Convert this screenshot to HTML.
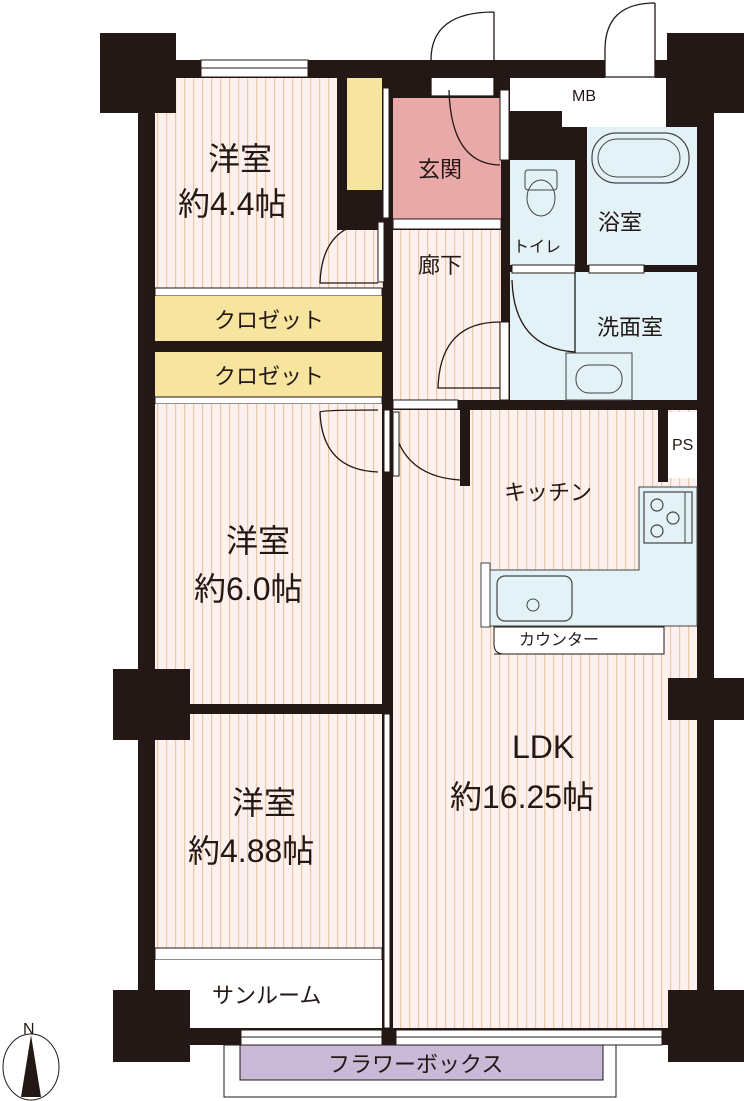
<!DOCTYPE html>
<html><head><meta charset="utf-8"><style>
html,body{margin:0;padding:0;background:#fff;}
svg{display:block}
text{font-family:"Liberation Sans","Noto Sans CJK JP",sans-serif;fill:#231815;}
</style></head><body>
<svg width="744" height="1101" viewBox="0 0 744 1101" xmlns="http://www.w3.org/2000/svg">
<defs>
<pattern id="fl" width="9" height="10" patternUnits="userSpaceOnUse">
<rect width="9" height="10" fill="#fcf1ee"/><rect x="4" width="1.2" height="10" fill="#ecc9a6"/>
</pattern>
</defs>
<rect x="138" y="60" width="576" height="985" fill="#231815"/>
<!-- rooms -->
<rect x="155" y="78" width="182" height="210" fill="url(#fl)"/>
<rect x="155" y="230" width="228" height="58" fill="url(#fl)"/>
<rect x="347" y="78" width="35" height="112" fill="#f7e59f"/>
<rect x="393" y="98" width="108" height="121" fill="#e9a9a8"/>
<rect x="393" y="219" width="108" height="10" fill="#fff" stroke="#231815" stroke-width="1"/>
<rect x="393" y="230" width="108" height="170" fill="url(#fl)"/>
<rect x="431" y="78" width="63" height="18" fill="#fff"/>
<rect x="510" y="78" width="156" height="33" fill="#fff"/>
<rect x="562" y="110" width="104" height="17" fill="#fff"/>
<rect x="605" y="60" width="50" height="18" fill="#fff"/>
<rect x="510" y="160" width="65" height="105" fill="#e3f2f6"/>
<rect x="587" y="127" width="110" height="138" fill="#e3f2f6"/>
<rect x="510" y="272" width="187" height="128" fill="#e3f2f6"/>
<rect x="512" y="265" width="63" height="8" fill="#fff" stroke="#231815" stroke-width="1"/>
<rect x="589" y="265" width="55" height="8" fill="#fff" stroke="#231815" stroke-width="1"/>
<rect x="155" y="288" width="227" height="8" fill="#fff" stroke="#231815" stroke-width="1"/>
<rect x="155" y="296" width="227" height="45" fill="#f7e59f"/>
<rect x="155" y="352" width="227" height="45" fill="#f7e59f"/>
<rect x="155" y="397" width="227" height="7" fill="#fff" stroke="#231815" stroke-width="1"/>
<rect x="393" y="400" width="65" height="9" fill="#fff" stroke="#231815" stroke-width="1"/>
<rect x="155" y="404" width="227" height="300" fill="url(#fl)"/>
<rect x="155" y="714" width="227" height="234" fill="url(#fl)"/>
<rect x="155" y="948" width="227" height="12" fill="#fff" stroke="#231815" stroke-width="1"/>
<rect x="155" y="960" width="227" height="68" fill="#fff"/>
<rect x="384" y="714" width="6" height="314" fill="#fff" stroke="#231815" stroke-width="1"/>
<rect x="393" y="410" width="304" height="618" fill="url(#fl)"/>
<rect x="460" y="404" width="10" height="82" fill="#231815"/>
<rect x="658" y="404" width="10" height="78" fill="#231815"/>
<rect x="668" y="412" width="29" height="66" fill="#fff"/>
<!-- counter -->
<path d="M639 487H697V626H490V570H639Z" fill="#e3f2f6" stroke="#444" stroke-width="1"/>
<rect x="644" y="492" width="48" height="51" fill="none" stroke="#444" stroke-width="1.2"/>
<line x1="685" y1="492" x2="685" y2="543" stroke="#444"/>
<circle cx="657" cy="505" r="6" fill="none" stroke="#444" stroke-width="1.2"/>
<circle cx="673" cy="518" r="6" fill="none" stroke="#444" stroke-width="1.2"/>
<circle cx="657" cy="531" r="6" fill="none" stroke="#444" stroke-width="1.2"/>
<rect x="481" y="563" width="9" height="64" fill="#fff" stroke="#444"/>
<rect x="497" y="576" width="75" height="45" rx="8" fill="none" stroke="#444" stroke-width="1.2"/>
<circle cx="533" cy="605" r="6" fill="none" stroke="#444"/>
<path d="M494 654H664V627H494V644Q494 654 504 654" fill="#fff" stroke="#231815"/>
<!-- bath fixtures -->
<rect x="592" y="133" width="97" height="50" rx="24" fill="none" stroke="#444" stroke-width="1.2"/>
<rect x="598" y="139" width="82" height="38" rx="19" fill="none" stroke="#444"/>
<rect x="566" y="353" width="66" height="47" fill="none" stroke="#444"/>
<rect x="576" y="365" width="46" height="28" rx="13" fill="none" stroke="#444"/>
<ellipse cx="541" cy="198" rx="14" ry="18" fill="none" stroke="#444"/>
<rect x="525" y="170" width="32" height="20" rx="3" fill="none" stroke="#444"/>
<!-- doors arcs -->
<g fill="none" stroke="#231815" stroke-width="1.3">
<path d="M494 12V96H431V60Q431 12 494 12"/>
<path d="M655 3V77H605V50Q605 3 655 3"/>
<path d="M449 90Q451 164 500 165"/>
<path d="M378 222Q322 222 320 283H378"/>
<path d="M500 322Q440 322 438 388H500"/>
<path d="M512 280Q514 348 575 352V272"/>
<path d="M392 412Q396 476 460 480"/>
<path d="M378 410Q322 410 320 412M320 412Q322 470 378 472"/>
</g>
<rect x="500" y="90" width="9" height="70" fill="#fff" stroke="#231815"/>
<rect x="383" y="88" width="6" height="130" fill="#fff" stroke="#231815"/>
<rect x="378" y="222" width="6" height="60" fill="#fff" stroke="#231815"/>
<rect x="500" y="322" width="9" height="78" fill="#fff" stroke="#231815"/>
<rect x="384" y="410" width="6" height="62" fill="#fff" stroke="#231815"/>
<rect x="393" y="412" width="6" height="64" fill="#fff" stroke="#231815"/>
<!-- windows -->
<rect x="201" y="60" width="107" height="17" fill="#fff" stroke="#231815"/>
<line x1="201" y1="68" x2="308" y2="68" stroke="#231815"/>
<rect x="241" y="1030" width="141" height="15" fill="#fff" stroke="#231815"/>
<line x1="241" y1="1037" x2="382" y2="1037" stroke="#231815"/>
<rect x="396" y="1030" width="266" height="15" fill="#fff" stroke="#231815"/>
<line x1="396" y1="1037" x2="662" y2="1037" stroke="#231815"/>
<rect x="224" y="1045" width="392" height="52" fill="#fff" stroke="#231815"/>
<rect x="240" y="1045" width="363" height="35" fill="#c8b9d7" stroke="#231815"/>
<!-- pillars on top -->
<g fill="#231815">
<rect x="100" y="33" width="76" height="80"/>
<rect x="667" y="33" width="77" height="80"/>
<rect x="113" y="669" width="77" height="71"/>
<rect x="668" y="678" width="76" height="42"/>
<rect x="113" y="990" width="77" height="72"/>
<rect x="668" y="990" width="76" height="72"/>
</g>
<!-- compass -->
<ellipse cx="31" cy="1067" rx="28" ry="33" fill="#fff" stroke="#231815"/>
<path d="M31 1035L21 1097H41Z" fill="#231815"/>
<text x="23" y="1034" font-size="16">N</text>
<!-- labels -->
<g font-size="32">
<text x="208" y="170">洋室</text>
<text x="178" y="215">約4.4帖</text>
<text x="226" y="552">洋室</text>
<text x="194" y="600">約6.0帖</text>
<text x="232" y="814">洋室</text>
<text x="188" y="862">約4.88帖</text>
<text x="512" y="758">LDK</text>
<text x="450" y="808">約16.25帖</text>
</g>
<g font-size="22">
<text x="418" y="177">玄関</text>
<text x="418" y="273">廊下</text>
<text x="598" y="230">浴室</text>
<text x="597" y="335">洗面室</text>
<text x="214" y="328">クロゼット</text>
<text x="214" y="384">クロゼット</text>
<text x="504" y="500">キッチン</text>
<text x="212" y="1003">サンルーム</text>
<text x="328" y="1072">フラワーボックス</text>
</g>
<g font-size="16">
<text x="513" y="252">トイレ</text>
<text x="519" y="645">カウンター</text>
<text x="672" y="450">PS</text>
<text x="572" y="101">MB</text>
</g>
</svg>
</body></html>
